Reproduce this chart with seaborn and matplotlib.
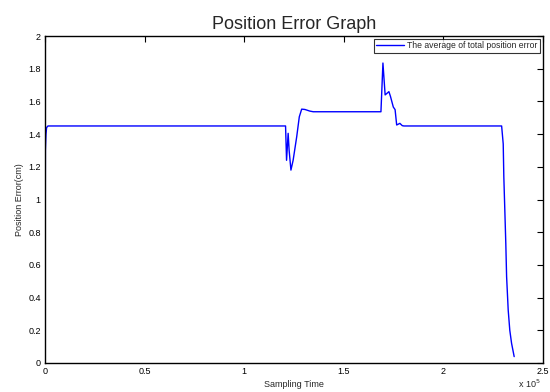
import matplotlib
matplotlib.use("Agg")
import matplotlib.pyplot as plt
import seaborn as sns
import pandas as pd
from matplotlib.ticker import FuncFormatter

# Sampling time in units of 1e5 samples, position error in cm
sampling_time = [0.0, 0.002, 0.005, 0.008, 0.015, 0.5, 1.0, 1.208, 1.213, 1.221, 1.226,
                 1.235, 1.246, 1.264, 1.277, 1.289, 1.305, 1.330, 1.347, 1.5, 1.687,
                 1.697, 1.708, 1.727, 1.735, 1.749, 1.758, 1.766, 1.782, 1.794, 1.802,
                 2.0, 2.293, 2.301, 2.304, 2.309, 2.314, 2.318, 2.326, 2.334, 2.343, 2.356]
position_error = [0.0, 1.30, 1.40, 1.44, 1.45, 1.45, 1.45, 1.45, 1.24, 1.405, 1.30,
                  1.18, 1.24, 1.384, 1.506, 1.553, 1.551, 1.541, 1.537, 1.537, 1.537,
                  1.835, 1.64, 1.66, 1.63, 1.566, 1.55, 1.456, 1.466, 1.452, 1.45,
                  1.45, 1.45, 1.34, 1.14, 0.936, 0.73, 0.528, 0.324, 0.20, 0.12, 0.039]
x_ticks = [0, 0.5, 1, 1.5, 2, 2.5]
y_ticks = [0, 0.2, 0.4, 0.6, 0.8, 1, 1.2, 1.4, 1.6, 1.8, 2]
series_label = "The average of total position error"

sns.set_style("white")
plt.rcParams['font.family'] = ['Liberation Sans', 'DejaVu Sans']

df = pd.DataFrame({"t": sampling_time, "err": position_error})

fig = plt.figure(figsize=(5.5, 3.92), dpi=100)
ax = fig.add_axes([0.0818, 0.074, 0.9052, 0.834])
sns.lineplot(data=df, x="t", y="err", ax=ax, color="#0000ff", linewidth=1.0,
             label=series_label, sort=False)

ax.set_xlim(0, 2.5)
ax.set_ylim(0, 2)
ax.set_xticks(x_ticks)
ax.set_yticks(y_ticks)
fmt = FuncFormatter(lambda v, p: "%g" % v)
ax.xaxis.set_major_formatter(fmt)
ax.yaxis.set_major_formatter(fmt)
ax.tick_params(direction="in", length=4, width=0.8, labelsize=6.5, top=True, right=True,
               colors="black", pad=3)
for s in ax.spines.values():
    s.set_visible(True)
    s.set_color("black")
    s.set_linewidth(1.0)

ax.set_xlabel("Sampling Time", fontsize=6.5, labelpad=3)
ax.set_ylabel("Position Error(cm)", fontsize=6.5, labelpad=3)
ax.set_title("Position Error Graph", fontsize=13, pad=5)
ax.text(0.995, -0.045, r"x 10$^5$", transform=ax.transAxes, fontsize=6.5, ha="right", va="top")

leg = ax.legend(loc="upper right", fontsize=6.2, frameon=True, fancybox=False,
                borderaxespad=0.3, handlelength=3.2, borderpad=0.3, handletextpad=0.4)
leg.get_frame().set_edgecolor("black")
leg.get_frame().set_linewidth(0.8)
ax.grid(False)

fig.savefig("out.png", dpi=100, facecolor="white")
